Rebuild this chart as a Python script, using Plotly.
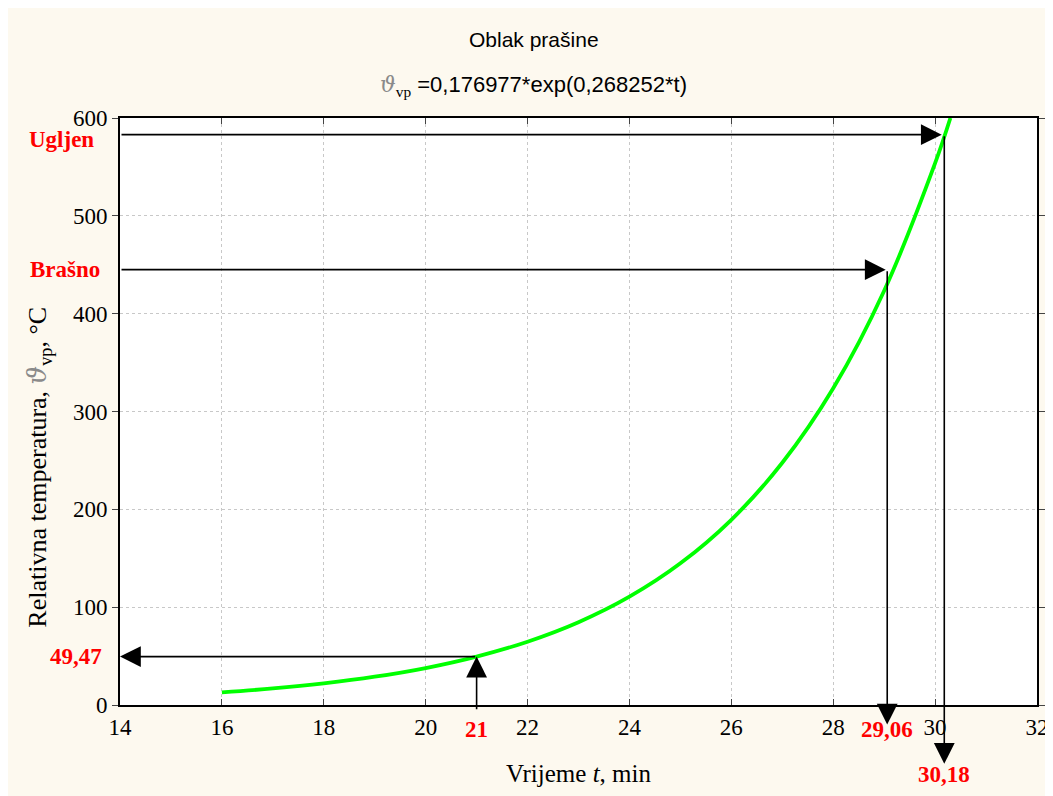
import plotly.graph_objects as go

# values
t_vals = [16, 17, 18, 19, 20, 21, 22, 23, 24, 25, 26, 27, 28, 29, 30, 30.3]
temp_vals = [12.9, 16.9, 22.1, 28.9, 37.8, 49.5, 64.7, 84.6, 110.7, 144.8,
             189.3, 247.6, 323.8, 423.5, 553.8, 600]

# marked points (t, temperature)
ugljen = (30.18, 583)
brasno = (29.06, 445)
point21 = (21, 49.47)

x_ticks = [14, 16, 18, 20, 22, 24, 26, 28, 30, 32]
y_ticks = [0, 100, 200, 300, 400, 500, 600]

SERIF = "Liberation Serif, Times New Roman, serif"
SANS = "Liberation Sans, Arial, sans-serif"
THETA = "<span style='font-family:DejaVu Serif;color:#8a8a8a'><i>ϑ</i></span>"

fig = go.Figure()

fig.add_trace(go.Scatter(
    x=t_vals, y=temp_vals,
    mode="lines",
    line=dict(color="#00ff00", width=3.8, shape="spline"),
    showlegend=False,
    hoverinfo="skip",
))

arrow = dict(xref="x", yref="y", axref="x", ayref="y", text="",
             showarrow=True, arrowhead=2, arrowsize=2.6, arrowwidth=1.6,
             arrowcolor="black")

# ===== ARROWS =====
ann = []
# Ugljen: horizontal to curve, then down below axis
ann.append(dict(arrow, x=ugljen[0] - 0.05, y=ugljen[1], ax=14, ay=ugljen[1]))
ann.append(dict(arrow, x=ugljen[0], y=-60, ax=ugljen[0], ay=ugljen[1]))
# Brasno
ann.append(dict(arrow, x=brasno[0] - 0.03, y=brasno[1], ax=14, ay=brasno[1]))
ann.append(dict(arrow, x=brasno[0], y=-20, ax=brasno[0], ay=brasno[1]))
# 21 min point
ann.append(dict(arrow, x=point21[0], y=point21[1], ax=point21[0], ay=-6))
ann.append(dict(arrow, x=14, y=point21[1], ax=point21[0], ay=point21[1]))

red = dict(family=SERIF, size=23, color="#ff0000")
ann.append(dict(xref="paper", yref="y", x=-0.026, y=ugljen[1], yshift=-5,
                text="<b>Ugljen</b>",
                showarrow=False, xanchor="right", yanchor="middle", font=red))
ann.append(dict(xref="paper", yref="y", x=-0.02, y=brasno[1], text="<b>Brašno</b>",
                showarrow=False, xanchor="right", yanchor="middle", font=red))
ann.append(dict(xref="paper", yref="y", x=-0.017, y=point21[1], text="<b>49,47</b>",
                showarrow=False, xanchor="right", yanchor="middle", font=red))
ann.append(dict(xref="x", yref="paper", x=21, y=-0.017, text="<b>21</b>",
                showarrow=False, xanchor="center", yanchor="top", font=red))
ann.append(dict(xref="x", yref="paper", x=29.06, y=-0.017, text="<b>29,06</b>",
                showarrow=False, xanchor="center", yanchor="top", font=red))
ann.append(dict(xref="x", yref="paper", x=30.18, y=-0.093, text="<b>30,18</b>",
                showarrow=False, xanchor="center", yanchor="top", font=red))

# ===== TITLES =====
ann.append(dict(xref="paper", yref="paper", x=0.451, y=1.133, text="Oblak prašine",
                showarrow=False, yanchor="middle",
                font=dict(family=SANS, size=21, color="black")))
ann.append(dict(xref="paper", yref="paper", x=0.451, y=1.054,
                text=THETA + "<span style='font-family:Liberation Serif'><sub>vp</sub></span>"
                     " =0,176977*exp(0,268252*t)",
                showarrow=False, yanchor="middle",
                font=dict(family=SANS, size=22, color="black")))

# y axis title, placed lower than centre like in the original
ann.append(dict(xref="paper", yref="y", x=-0.089, y=243, textangle=-90,
                text="Relativna temperatura, " + THETA + "<sub>vp</sub>, °C",
                showarrow=False, xanchor="center", yanchor="middle",
                font=dict(family=SERIF, size=26, color="black")))

fig.update_layout(
    width=1053, height=796,
    margin=dict(l=112, r=13, t=110, b=99),
    paper_bgcolor="#fdf9ef",
    plot_bgcolor="white",
    annotations=ann,
    font=dict(family=SERIF, size=23, color="black"),
)

fig.update_xaxes(
    range=[14, 32], tickvals=x_ticks, ticks="inside", ticklen=6,
    showline=True, linecolor="black", linewidth=2, mirror="ticks",
    showgrid=True, gridcolor="#c8c8c8", griddash="dot", gridwidth=1,
    zeroline=False,
    title=dict(text="Vrijeme <i>t</i>, min", standoff=26,
               font=dict(family=SERIF, size=25)),
)
fig.update_yaxes(
    range=[0, 600], tickvals=y_ticks, ticks="outside", ticklen=6,
    showline=True, linecolor="black", linewidth=2, mirror="ticks",
    showgrid=True, gridcolor="#c8c8c8", griddash="dot", gridwidth=1,
    zeroline=False,
)

fig.write_html("out.html")
